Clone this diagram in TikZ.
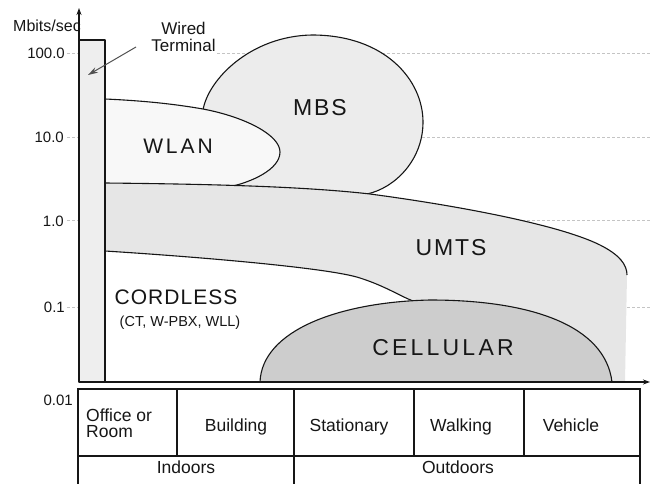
\documentclass[tikz,border=0pt]{standalone}
\usepackage{fontspec}
\setmainfont{Liberation Sans}
\newfontfamily\widefont[LetterSpace=8]{Liberation Sans}
\newfontfamily\widerfont[LetterSpace=14]{Liberation Sans}
\newfontfamily\slightfont[LetterSpace=5]{Liberation Sans}
\usetikzlibrary{arrows.meta}

\definecolor{ink}{HTML}{161616}
\definecolor{gridc}{HTML}{C4C4C4}
\definecolor{barfill}{HTML}{EEEEEE}
\definecolor{mbsfill}{HTML}{ECECEC}
\definecolor{wlanfill}{HTML}{F8F8F8}
\definecolor{umtsfill}{HTML}{E6E6E6}
\definecolor{cellfill}{HTML}{CDCDCD}

\tikzset{
  zone/.style={draw=ink, line width=1.1pt, line join=round},
  zonelabel/.style={font=\widefont\fontsize{23}{26}\selectfont, text=ink, inner sep=0pt},
  celltext/.style={font=\fontsize{17.5}{16}\selectfont, text=ink, inner sep=0pt},
  ticktext/.style={font=\fontsize{15}{16}\selectfont, text=ink, inner sep=0pt},
  gridline/.style={draw=gridc, line width=0.8pt, dash pattern=on 3pt off 2pt},
  tableline/.style={draw=ink, line width=1.1pt},
  axisline/.style={draw=ink, line width=1.1pt, -{Stealth[length=7pt,width=5pt]}},
}

\begin{document}
\begin{tikzpicture}[x=1pt, y=-1pt]
\useasboundingbox (0,0) rectangle (650,484);

% rate grid lines
\foreach \gy in {137,220,307} \draw[gridline] (67,\gy) -- (650,\gy);
\draw[gridline] (67,53) -- (79,53);
\draw[gridline] (217,53) -- (650,53);

% MBS
\draw[zone, fill=mbsfill] (203,110) .. controls (208,80) and (250,36) .. (312,35)
  .. controls (385,35) and (423,80) .. (423,122)
  .. controls (423,160) and (395,188) .. (367,194)
  -- (367,200) -- (230,190) -- (225,140) -- cycle;

% WLAN
\draw[zone, fill=wlanfill] (105,99) .. controls (150,101) and (180,105) .. (203,109)
  .. controls (245,117) and (280,135) .. (280,152)
  .. controls (280,170) and (250,182) .. (233,186)
  -- (105,186) -- cycle;

% UMTS
\fill[umtsfill] (105,183) .. controls (200,184) and (300,186) .. (370,194)
  .. controls (460,206) and (560,225) .. (600,245)
  .. controls (620,255) and (627,265) .. (627,275)
  -- (625,382) -- (105,382) -- cycle;
\draw[zone] (105,183) .. controls (200,184) and (300,186) .. (370,194)
  .. controls (460,206) and (560,225) .. (600,245)
  .. controls (620,255) and (627,265) .. (627,275);

% cordless area
\fill[white] (105,251) .. controls (200,257) and (330,268) .. (360,278)
  .. controls (385,286) and (400,296) .. (413,301)
  -- (413,382) -- (105,382) -- cycle;
\draw[zone] (105,251) .. controls (200,257) and (330,268) .. (360,278)
  .. controls (385,286) and (400,296) .. (413,301);

% cellular
\draw[zone, fill=cellfill] (260,382) .. controls (262,330) and (340,302) .. (430,300)
  .. controls (530,300) and (605,325) .. (612,382) -- cycle;

% wired terminal bar
\draw[zone, fill=barfill] (79,40) rectangle (105,382);

% axes
\coordinate (O) at (79,382);
\coordinate (ytop) at (79,8);
\coordinate (xend) at (650,382);
\draw[axisline] (O) -- (ytop);
\draw[axisline] (O) -- (xend);

% zone labels
\node[zonelabel] (mbs) at (320,108) {MBS};
\node[zonelabel, font=\widerfont\fontsize{21}{24}\selectfont] (wlan) at (178,146) {WLAN};
\node[zonelabel] (umts) at (451,248) {UMTS};
\node[zonelabel, font=\widerfont\fontsize{23}{26}\selectfont] (cell) at (443,348) {CELLULAR};
\node[text=ink, inner sep=0pt, font=\slightfont\fontsize{21}{24}\selectfont] (cordless) at (176,297) {CORDLESS};
\node[text=ink, inner sep=0pt, font=\fontsize{14.5}{16}\selectfont] (cordsub) at (180,323) {(CT, W-PBX, WLL)};

% wired terminal callout
\node[text=ink, inner sep=0pt, align=center, font=\fontsize{17}{17}\selectfont] (wired) at (183.5,37) {Wired\\Terminal};
\coordinate (wtail) at (136,47);
\coordinate (wtip) at (88,75);
\draw[draw=ink!75, line width=1pt, -{Stealth[length=10pt,width=6pt]}] (wtail) -- (wtip);

% axis labels
\node[ticktext, font=\fontsize{16}{16}\selectfont] (unit) at (47,26) {Mbits/sec};
\node[ticktext, anchor=east] (t100) at (65,53) {100.0};
\node[ticktext, anchor=east] (t10) at (64,137) {10.0};
\node[ticktext, anchor=east] (t1) at (64,221) {1.0};
\node[ticktext, anchor=east] (t01) at (65,307) {0.1};
\node[ticktext, anchor=east] (t001) at (73,400) {0.01};

% mobility table
\draw[tableline] (78,484) -- (78,389) -- (640,389) -- (640,484);
\draw[tableline] (78,456) -- (640,456);
\draw[tableline] (177,389) -- (177,456);
\draw[tableline] (294,389) -- (294,484);
\draw[tableline] (414,389) -- (414,456);
\draw[tableline] (524,389) -- (524,456);

\node[celltext, anchor=west, align=left] (office) at (86,423.5) {Office or\\Room};
\node[celltext, anchor=base] (building) at (236,431) {Building};
\node[celltext, anchor=base] (stationary) at (349,431) {Stationary};
\node[celltext, anchor=base] (walking) at (461,431) {Walking};
\node[celltext, anchor=base] (vehicle) at (571,431) {Vehicle};
\node[celltext, anchor=base] (indoors) at (186,473) {Indoors};
\node[celltext, anchor=base] (outdoors) at (458,473) {Outdoors};
\end{tikzpicture}
\end{document}
